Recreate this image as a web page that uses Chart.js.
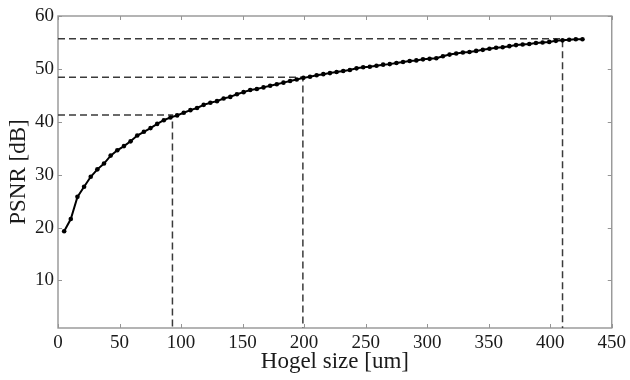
<!DOCTYPE html>
<html>
<head>
<meta charset="utf-8">
<script src="https://cdn.jsdelivr.net/npm/chart.js@4/dist/chart.umd.min.js"></script>
<style>
  html, body { margin: 0; padding: 0; background: #ffffff; }
  #wrap { width: 630px; height: 380px; }
</style>
</head>
<body>
<div id="wrap"><canvas id="c" width="630" height="380"></canvas></div>
<script>
// Hogel size [um]
const hogelSize = [
  5.0, 10.4, 15.8, 21.2, 26.6, 32.0, 37.4, 42.8, 48.2, 53.6,
  59.0, 64.4, 69.8, 75.2, 80.6, 86.0, 91.4, 96.8, 102.2, 107.6,
  113.0, 118.4, 123.8, 129.2, 134.6, 140.0, 145.4, 150.8, 156.2, 161.6,
  167.0, 172.4, 177.8, 183.2, 188.6, 194.0, 199.4, 204.8, 210.2, 215.6,
  221.0, 226.4, 231.8, 237.2, 242.6, 248.0, 253.4, 258.8, 264.2, 269.6,
  275.0, 280.4, 285.8, 291.2, 296.6, 302.0, 307.4, 312.8, 318.2, 323.6,
  329.0, 334.4, 339.8, 345.2, 350.6, 356.0, 361.4, 366.8, 372.2, 377.6,
  383.0, 388.4, 393.8, 399.2, 404.6, 410.0, 415.4, 420.8, 426.2
];
// PSNR [dB]
const psnr = [
  19.3, 21.6, 25.8, 27.7, 29.6, 31.0, 32.1, 33.6, 34.6, 35.4,
  36.3, 37.4, 38.1, 38.8, 39.6, 40.3, 40.8, 41.2, 41.7, 42.2,
  42.6, 43.2, 43.6, 43.9, 44.4, 44.7, 45.2, 45.6, 46.0, 46.2,
  46.5, 46.8, 47.1, 47.4, 47.7, 48.0, 48.3, 48.5, 48.8, 49.0,
  49.2, 49.4, 49.6, 49.8, 50.1, 50.3, 50.4, 50.6, 50.8, 50.9,
  51.1, 51.3, 51.5, 51.6, 51.8, 51.9, 52.0, 52.4, 52.7, 52.9,
  53.1, 53.2, 53.4, 53.6, 53.8, 54.0, 54.1, 54.3, 54.5, 54.6,
  54.7, 54.9, 55.0, 55.1, 55.3, 55.4, 55.5, 55.6, 55.6
];
// Dashed reference lines (hogel size, PSNR)
const refX = [93, 199, 410];
const refY = [41.3, 48.4, 55.7];
// Axis ticks
const xTicks = [0, 50, 100, 150, 200, 250, 300, 350, 400, 450];
const yTicks = [10, 20, 30, 40, 50, 60];
const xMin = 0, xMax = 450, yMin = 1, yMax = 60;

const mainData = hogelSize.map((x, i) => ({ x: x, y: psnr[i] }));
const refDatasets = refX.map((rx, i) => ({
  data: [{ x: xMin, y: refY[i] }, { x: rx, y: refY[i] }, { x: rx, y: yMin }],
  showLine: true,
  borderColor: '#3a3a3a',
  borderWidth: 1.5,
  borderDash: [7, 4],
  pointRadius: 0,
  fill: false,
  order: 2
}));

const frameTicks = {
  id: 'frameTicks',
  beforeDatasetsDraw(chart) {
    const { ctx, chartArea: a, scales: { x, y } } = chart;
    ctx.save();
    ctx.strokeStyle = '#959595';
    ctx.lineWidth = 1.4;
    ctx.strokeRect(a.left, a.top, a.right - a.left, a.bottom - a.top);
    ctx.lineWidth = 1;
    ctx.beginPath();
    xTicks.forEach(v => {
      const px = Math.round(x.getPixelForValue(v)) + 0.5;
      ctx.moveTo(px, a.bottom); ctx.lineTo(px, a.bottom - 4);
      ctx.moveTo(px, a.top); ctx.lineTo(px, a.top + 4);
    });
    yTicks.forEach(v => {
      const py = Math.round(y.getPixelForValue(v)) + 0.5;
      ctx.moveTo(a.left, py); ctx.lineTo(a.left + 4, py);
      ctx.moveTo(a.right, py); ctx.lineTo(a.right - 4, py);
    });
    ctx.stroke();
    ctx.restore();
  }
};

const serif = '"Liberation Serif", "Times New Roman", serif';

new Chart(document.getElementById('c'), {
  type: 'scatter',
  data: {
    datasets: [
      {
        data: mainData,
        showLine: true,
        borderColor: '#000000',
        backgroundColor: '#000000',
        borderWidth: 2,
        pointRadius: 2.3,
        pointBorderWidth: 0,
        pointBackgroundColor: '#000000',
        tension: 0,
        order: 1
      },
      ...refDatasets
    ]
  },
  options: {
    responsive: false,
    animation: false,
    devicePixelRatio: 1,
    layout: { padding: { left: 0, right: 17, top: 16, bottom: 0 } },
    plugins: { legend: { display: false }, tooltip: { enabled: false } },
    scales: {
      x: {
        type: 'linear',
        min: xMin, max: xMax,
        afterBuildTicks: s => { s.ticks = xTicks.map(v => ({ value: v })); },
        afterFit: s => { s.height = 52; },
        grid: { display: false, drawTicks: false },
        border: { display: false },
        ticks: { color: '#1a1a1a', font: { family: serif, size: 19 }, padding: 4, maxRotation: 0, autoSkip: false },
        title: { display: true, text: 'Hogel size [um]', color: '#1a1a1a', font: { family: serif, size: 23 }, padding: { top: 0, bottom: 4 } }
      },
      y: {
        type: 'linear',
        min: yMin, max: yMax,
        afterBuildTicks: s => { s.ticks = yTicks.map(v => ({ value: v })); },
        afterFit: s => { s.width = 58; },
        grid: { display: false, drawTicks: false },
        border: { display: false },
        ticks: { color: '#1a1a1a', font: { family: serif, size: 19 }, padding: 4, autoSkip: false },
        title: { display: true, text: 'PSNR [dB]', color: '#1a1a1a', font: { family: serif, size: 23 }, padding: { top: 5, bottom: 0 } }
      }
    }
  },
  plugins: [frameTicks]
});
</script>
</body>
</html>
